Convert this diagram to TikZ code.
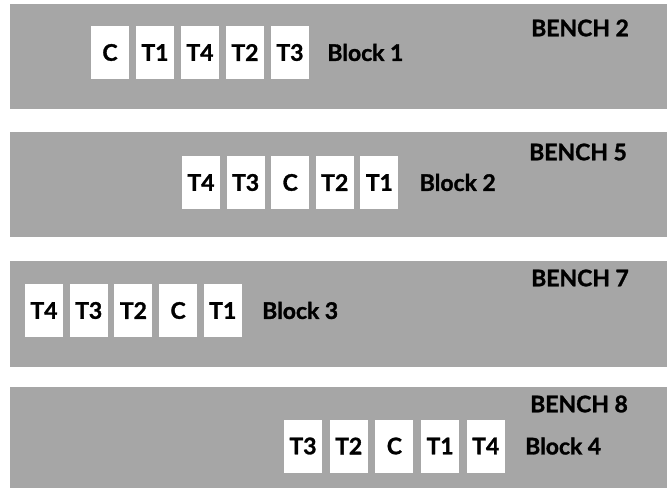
\documentclass[tikz,border=0pt]{standalone}
\usepackage{fontspec}
\setmainfont{Lato}[BoldFeatures={FakeBold=1.3}]
\usepackage{tikz}
\usetikzlibrary{positioning}

\definecolor{benchgrey}{RGB}{166,166,166}

\begin{document}
\begin{tikzpicture}[x=1bp, y=-1bp,
    plotbox/.style={fill=white, minimum width=38bp, minimum height=53bp, inner sep=0pt,
                    font=\fontsize{23}{27}\selectfont\bfseries},
    blocklabel/.style={inner sep=0pt, font=\fontsize{23}{27}\selectfont\bfseries},
    benchlabel/.style={inner sep=0pt, anchor=west, font=\fontsize{23}{27}\selectfont\bfseries}]
        \useasboundingbox (0,0) rectangle (667,488);

        % Bancos
        \fill[benchgrey] (10,4) rectangle (667,109);
        \fill[benchgrey] (10,132) rectangle (667,237);
        \fill[benchgrey] (10,261) rectangle (667,367);
        \fill[benchgrey] (10,387) rectangle (667,488);

        % Bloque 1
        \foreach \t [count=\i] in {C,T1,T4,T2,T3}
            \node[plotbox] (bA\i) at ({110+45*(\i-1)},52.5) {\t};
        \node[blocklabel, right=18bp of bA5] (blockA) {Block 1};
        \node[benchlabel] (benchA) at (531,28) {BENCH 2};

        % Bloque 2
        \foreach \t [count=\i] in {T4,T3,C,T2,T1}
            \node[plotbox] (bB\i) at ({201+44.6*(\i-1)},182.5) {\t};
        \node[blocklabel, right=21bp of bB5] (blockB) {Block 2};
        \node[benchlabel] (benchB) at (529,152) {BENCH 5};

        % Bloque 3
        \foreach \t [count=\i] in {T4,T3,T2,C,T1}
            \node[plotbox] (bC\i) at ({44+44.7*(\i-1)},310.5) {\t};
        \node[blocklabel, right=20bp of bC5] (blockC) {Block 3};
        \node[benchlabel] (benchC) at (531,278) {BENCH 7};

        % Bloque 4
        \foreach \t [count=\i] in {T3,T2,C,T1,T4}
            \node[plotbox] (bD\i) at ({303+45.7*(\i-1)},446) {\t};
        \node[blocklabel, right=20bp of bD5] (blockD) {Block 4};
        \node[benchlabel] (benchD) at (530,404) {BENCH 8};
    \end{tikzpicture}
\end{document}
